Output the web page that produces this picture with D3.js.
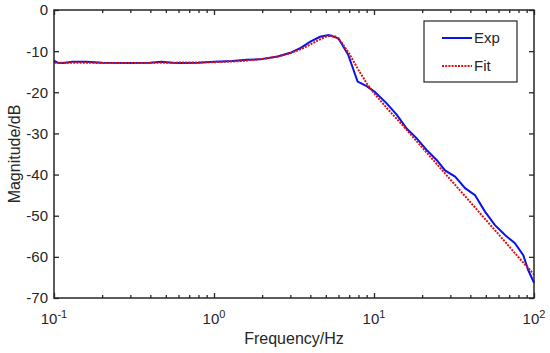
<!DOCTYPE html>
<html>
<head>
<meta charset="utf-8">
<script src="https://cdn.jsdelivr.net/npm/d3@7"></script>
<style>
  body { margin: 0; background: #fff; }
  text { font-family: 'Liberation Sans', Arial, sans-serif; fill: #262626; }
</style>
</head>
<body>
<div id="chart"></div>
<script>
// measured (Exp) magnitude response
const expFreq = [0.1, 0.105, 0.115, 0.13, 0.16, 0.2, 0.3, 0.4, 0.47, 0.55, 0.62, 0.8, 1.0, 1.3, 1.6, 1.94, 2.5, 3.0, 3.45, 4.0, 4.6, 5.2, 6.0, 6.9, 7.9, 9.0, 10.1, 12.0, 13.9, 16.0, 18.5, 21.3, 24.7, 27.8, 32.1, 37.1, 42.8, 49.4, 57.0, 65.9, 76.0, 85.7, 92.0, 100]
const expMag = [-12.3, -12.8, -12.9, -12.6, -12.6, -12.8, -12.9, -12.8, -12.6, -12.8, -12.9, -12.8, -12.6, -12.4, -12.1, -12.0, -11.3, -10.4, -9.3, -7.7, -6.5, -6.1, -6.9, -10.9, -17.4, -18.5, -19.9, -22.7, -25.5, -28.8, -31.2, -34.0, -36.5, -39.0, -40.5, -43.3, -45.0, -49.0, -52.3, -54.7, -56.7, -59.6, -63.2, -66.3]

// fitted model
const fitFreq = [0.1, 0.3, 1.0, 1.5, 2.0, 2.5, 3.0, 3.5, 4.0, 4.5, 5.0, 5.4, 5.8, 6.3, 7.0, 8.0, 9.0, 10, 12, 15, 20, 30, 40, 50, 60, 70, 80, 90, 100]
const fitMag = [-12.8, -12.9, -12.7, -12.4, -11.9, -11.3, -10.5, -9.5, -8.4, -7.3, -6.5, -6.2, -6.5, -8.0, -10.6, -14.6, -17.8, -20.2, -23.8, -27.9, -33.4, -41.2, -46.7, -51.0, -54.5, -57.5, -60.1, -62.3, -64.3]

const yTicks = [0, -10, -20, -30, -40, -50, -60, -70]
const xTicks = [0.1, 1, 10, 100]
const xTickExp = ['-1', '0', '1', '2']
const seriesNames = ['Exp', 'Fit']

const margin = { top: 10, right: 16, bottom: 55, left: 54 }
const width = 550 - margin.left - margin.right
const height = 353 - margin.top - margin.bottom

const svg = d3.select('#chart')
  .append('svg')
  .attr('width', 550)
  .attr('height', 353)
  .append('g')
  .attr('transform', `translate(${margin.left},${margin.top})`)

const x = d3.scaleLog().domain([0.1, 100]).range([0, width])
const y = d3.scaleLinear().domain([-70, 0]).range([height, 0])

// minor ticks 2..9 in each decade
const minorTicks = []
for (let d = 0.1; d < 100; d *= 10) {
  for (let k = 2; k <= 9; k++) minorTicks.push(d * k)
}

const axisColor = '#262626'

const drawTicks = (g) => {
  g.selectAll('.domain').remove()
  g.selectAll('line').attr('stroke', axisColor).attr('stroke-width', 1.3)
  g.selectAll('text').remove()
}

// bottom / top ticks (inward)
svg.append('g')
  .attr('transform', `translate(0,${height})`)
  .call(d3.axisBottom(x).tickValues(xTicks).tickSize(-5))
  .call(drawTicks)
svg.append('g')
  .attr('transform', `translate(0,${height})`)
  .call(d3.axisBottom(x).tickValues(minorTicks).tickSize(-3))
  .call(drawTicks)
svg.append('g')
  .call(d3.axisTop(x).tickValues(xTicks).tickSize(-5))
  .call(drawTicks)
svg.append('g')
  .call(d3.axisTop(x).tickValues(minorTicks).tickSize(-3))
  .call(drawTicks)

// left / right ticks
svg.append('g')
  .call(d3.axisLeft(y).tickValues(yTicks).tickSize(-5))
  .call(drawTicks)
svg.append('g')
  .attr('transform', `translate(${width},0)`)
  .call(d3.axisRight(y).tickValues(yTicks).tickSize(-5))
  .call(drawTicks)

// y tick labels
svg.append('g')
  .selectAll('text')
  .data(yTicks)
  .enter()
  .append('text')
  .attr('x', -6)
  .attr('y', d => y(d))
  .attr('dy', '0.36em')
  .attr('text-anchor', 'end')
  .attr('font-size', 15)
  .text(d => d)

// x tick labels with superscripts
const xl = svg.append('g')
  .selectAll('text')
  .data(xTicks)
  .enter()
  .append('text')
  .attr('x', d => x(d))
  .attr('y', height + 26)
  .attr('text-anchor', 'middle')
  .attr('font-size', 15)
xl.append('tspan').text('10')
xl.append('tspan')
  .attr('dy', -6)
  .attr('font-size', 11)
  .text((d, i) => xTickExp[i])

// lines
const line = d3.line()
  .x(d => x(d[0]))
  .y(d => y(d[1]))

svg.append('path')
  .datum(expFreq.map((f, i) => [f, expMag[i]]))
  .attr('d', line)
  .attr('fill', 'none')
  .attr('stroke', '#0a14e6')
  .attr('stroke-width', 2)

svg.append('path')
  .datum(fitFreq.map((f, i) => [f, fitMag[i]]))
  .attr('d', line)
  .attr('fill', 'none')
  .attr('stroke', '#e01010')
  .attr('stroke-width', 2)
  .attr('stroke-dasharray', '2,1.2')

// frame
svg.append('rect')
  .attr('width', width)
  .attr('height', height)
  .attr('fill', 'none')
  .attr('stroke', axisColor)
  .attr('stroke-width', 1.5)

// axis titles
svg.append('text')
  .attr('x', width / 2)
  .attr('y', height + 46)
  .attr('text-anchor', 'middle')
  .attr('font-size', 16)
  .text('Frequency/Hz')

svg.append('text')
  .attr('transform', `translate(${20 - margin.left},${height / 2}) rotate(-90)`)
  .attr('text-anchor', 'middle')
  .attr('font-size', 16)
  .text('Magnitude/dB')

// legend
const legend = svg.append('g')
  .attr('transform', `translate(${424 - margin.left},${21 - margin.top})`)

legend.append('rect')
  .attr('width', 93)
  .attr('height', 61)
  .attr('fill', '#fff')
  .attr('stroke', axisColor)
  .attr('stroke-width', 1.2)

const items = legend.selectAll('.item')
  .data(seriesNames)
  .enter()
  .append('g')
  .attr('class', 'item')
  .attr('transform', (d, i) => `translate(0,${17 + i * 28})`)

items.append('line')
  .attr('x1', 18)
  .attr('x2', 48)
  .attr('stroke', (d, i) => i === 0 ? '#0a14e6' : '#e01010')
  .attr('stroke-width', 2)
  .attr('stroke-dasharray', (d, i) => i === 0 ? null : '2,1.2')

items.append('text')
  .attr('x', 50)
  .attr('dy', '0.36em')
  .attr('font-size', 15)
  .text(d => d)
</script>
</body>
</html>
